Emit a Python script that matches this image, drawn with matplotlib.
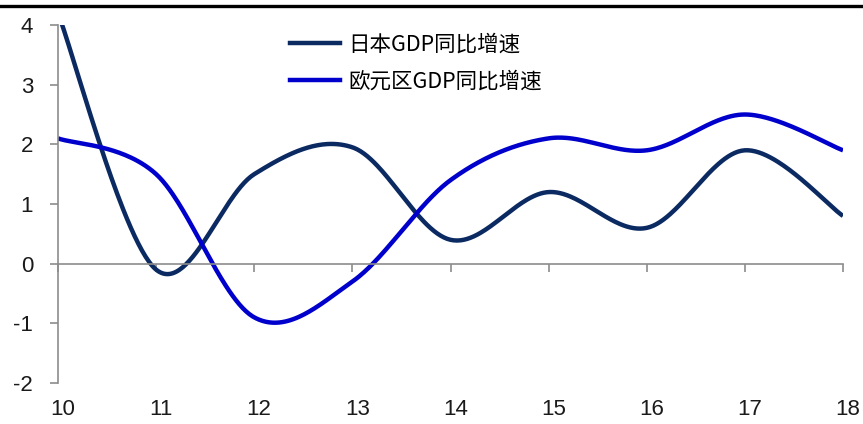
import numpy as np
import matplotlib
matplotlib.use("Agg")
import matplotlib.pyplot as plt
from matplotlib.lines import Line2D

plt.rcParams['font.family'] = ['Liberation Sans', 'DejaVu Sans']

years = [10, 11, 12, 13, 14, 15, 16, 17, 18]
japan_gdp = [4.2, -0.1, 1.5, 1.95, 0.4, 1.2, 0.6, 1.9, 0.8]
euro_gdp = [2.1, 1.5, -0.9, -0.3, 1.4, 2.1, 1.9, 2.5, 1.9]
x_tick_labels = ['10', '11', '12', '13', '14', '15', '16', '17', '18']
y_ticks = [-2, -1, 0, 1, 2, 3, 4]
series_names = ['日本GDP同比增速', '欧元区GDP同比增速']
series_colors = ['#0b2a62', '#0000cc']


def smooth(xs, ys, n=60):
    """Catmull-Rom style smoothing through every data point."""
    xs = np.asarray(xs, float)
    ys = np.asarray(ys, float)
    px = np.concatenate([[xs[0]], xs, [xs[-1]]])
    py = np.concatenate([[ys[0]], ys, [ys[-1]]])
    out_x, out_y = [], []
    for i in range(1, len(px) - 2):
        p0 = np.array([px[i - 1], py[i - 1]])
        p1 = np.array([px[i], py[i]])
        p2 = np.array([px[i + 1], py[i + 1]])
        p3 = np.array([px[i + 2], py[i + 2]])
        c1 = p1 + (p2 - p0) / 6.0
        c2 = p2 - (p3 - p1) / 6.0
        t = np.linspace(0, 1, n)[:, None]
        pts = ((1 - t) ** 3) * p1 + 3 * ((1 - t) ** 2) * t * c1 \
            + 3 * (1 - t) * t ** 2 * c2 + t ** 3 * p2
        out_x.extend(pts[:, 0])
        out_y.extend(pts[:, 1])
    return np.array(out_x), np.array(out_y)


fig = plt.figure(figsize=(8.63, 4.24), dpi=100)
ax = fig.add_axes([58 / 863, 41 / 424, 785 / 863, 358 / 424])

for vals, col in zip([japan_gdp, euro_gdp], series_colors):
    sx, sy = smooth(years, vals)
    ax.plot(sx, sy, color=col, lw=3.2, solid_capstyle='butt', clip_on=True)

ax.set_xlim(10, 18)
ax.set_ylim(-2, 4)

axis_gray = '#8c8c8c'
for s in ['top', 'right']:
    ax.spines[s].set_visible(False)
ax.spines['bottom'].set_position(('data', 0))
ax.spines['bottom'].set_color(axis_gray)
ax.spines['left'].set_color(axis_gray)
ax.spines['bottom'].set_linewidth(1.2)
ax.spines['left'].set_linewidth(1.2)

ax.set_yticks(y_ticks)
ax.set_yticklabels([str(v) for v in y_ticks])
ax.tick_params(axis='y', direction='out', length=6, width=1.2, color=axis_gray,
               pad=12, labelsize=16, labelcolor='#1a1a1a')
ax.set_xticks(years)
ax.set_xticklabels([])
ax.tick_params(axis='x', direction='out', length=6, width=1.2, color=axis_gray)

# category labels sit below the plot area
for xv, lab in zip(years, x_tick_labels):
    ax.text(xv + 0.05, -0.075, lab, transform=ax.get_xaxis_transform(),
            ha='center', va='center', fontsize=16, color='#1a1a1a')

# legend
handles = [Line2D([0], [0], color=c, lw=3.2) for c in series_colors]
leg = fig.legend(handles, series_names, loc='upper left',
                 bbox_to_anchor=(290 / 863, 1 - 34 / 424), frameon=False,
                 prop={'family': ['Noto Sans CJK SC', 'DejaVu Sans'], 'size': 15.5},
                 handlelength=2.3, handletextpad=0.4, labelspacing=0.66,
                 borderaxespad=0, borderpad=0)

# black rule across the top of the figure
fig.add_artist(Line2D([0, 1], [1 - 5.5 / 424, 1 - 5.5 / 424], transform=fig.transFigure,
                      color='black', lw=2.4))

fig.savefig('out.png', dpi=100)
